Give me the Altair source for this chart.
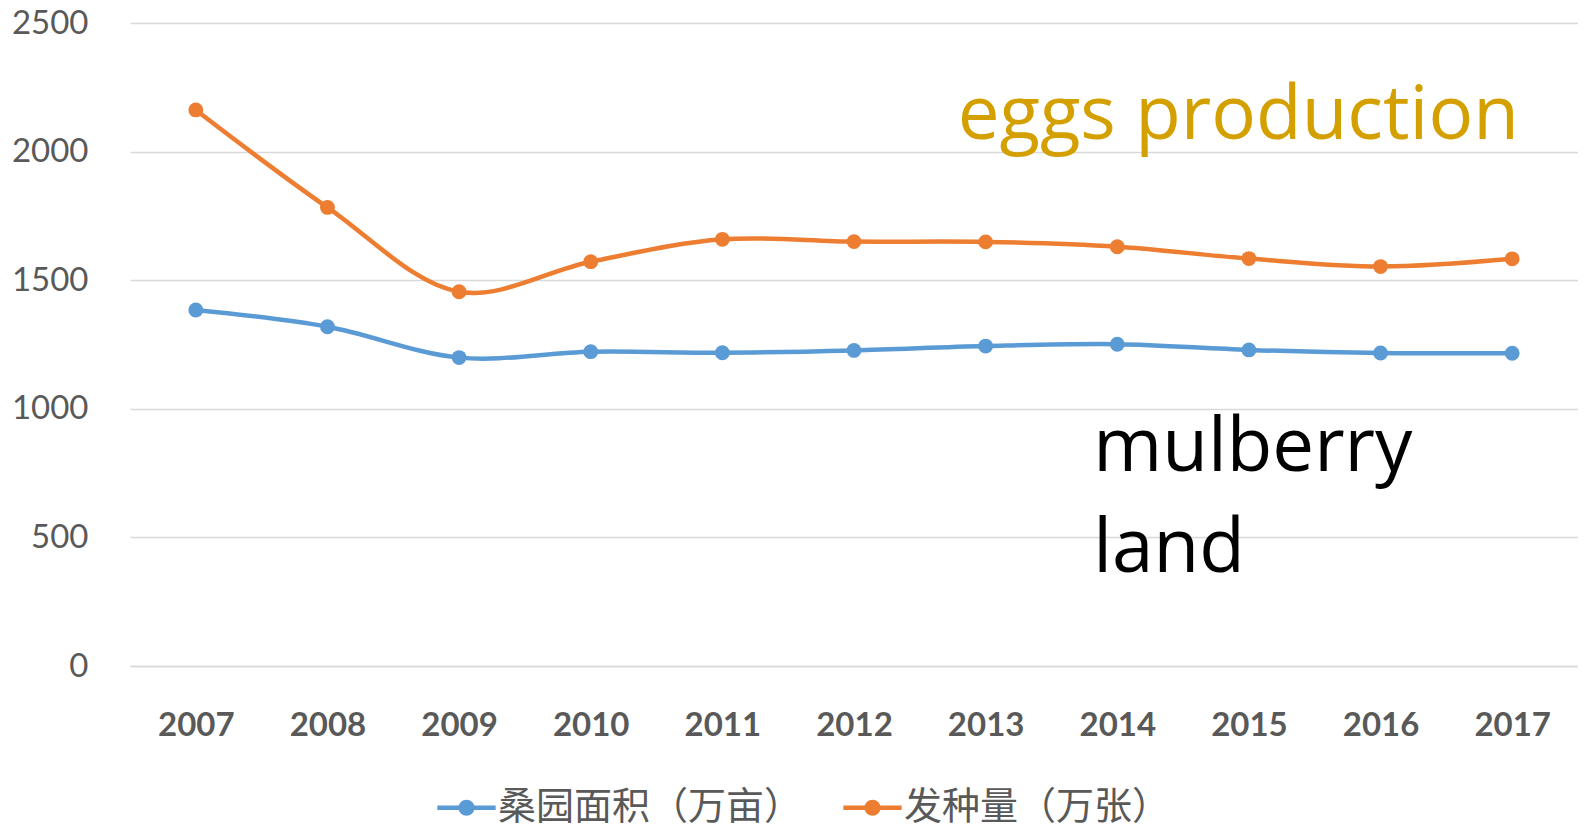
import altair as alt
import pandas as pd

years = ["2007", "2008", "2009", "2010", "2011", "2012", "2013", "2014", "2015", "2016", "2017"]
mulberry = [1384, 1319, 1199, 1222, 1218, 1227, 1244, 1251, 1229, 1217, 1216]
eggs = [2162, 1783, 1455, 1572, 1659, 1650, 1649, 1630, 1584, 1553, 1583]
series_names = ["桑园面积（万亩）", "发种量（万张）"]
colors = ["#5B9BD5", "#ED7D31"]

eggs_label = ["eggs production"]
eggs_label_year = ["2013"]
eggs_label_value = [2049]
land_label = ["mulberry", "land"]
land_label_year = ["2014", "2014"]
land_label_value = [758, 365]

rows = []
for y, v in zip(years, mulberry):
    rows.append({"year": y, "value": v, "series": series_names[0]})
for y, v in zip(years, eggs):
    rows.append({"year": y, "value": v, "series": series_names[1]})
df = pd.DataFrame(rows)
ann1 = pd.DataFrame({"text": eggs_label, "year": eggs_label_year, "value": eggs_label_value})
ann2 = pd.DataFrame({"text": land_label, "year": land_label_year, "value": land_label_value})

FONT = "Lato"
x_scale = alt.Scale(type="point", padding=0.5, domain=years)
y_scale = alt.Scale(domain=[0, 2500], nice=False, zero=True)

x_enc = alt.X("year:N", sort=years, title=None, scale=x_scale,
              axis=alt.Axis(labelAngle=0, labelFontWeight="bold", labelFontSize=33,
                            labelFont=FONT, labelColor="#595959", labelPadding=43,
                            ticks=False, domainColor="#D9D9D9", domainWidth=1.5, grid=False))
y_enc = alt.Y("value:Q", title=None, scale=y_scale,
              axis=alt.Axis(values=[0, 500, 1000, 1500, 2000, 2500], format="d", labelFontSize=33,
                            labelFont=FONT, labelColor="#595959", labelPadding=42,
                            ticks=False, domain=False, gridColor="#D9D9D9", gridWidth=1.5))
color_enc = alt.Color("series:N", sort=series_names, title=None,
                      scale=alt.Scale(domain=series_names, range=colors),
                      legend=alt.Legend(orient="none", legendX=305, legendY=753,
                                        direction="horizontal",
                                        labelFont="Noto Sans CJK SC", labelFontSize=38,
                                        labelColor="#595959", labelLimit=0,
                                        symbolType="M-1,0L1,0M-0.2,0A0.2,0.2 0 1 1 0.2,0A0.2,0.2 0 1 1 -0.2,0",
                                        symbolSize=3400, symbolStrokeWidth=4.5,
                                        symbolFillColor="transparent",
                                        columnPadding=31, labelOffset=0))

lines = alt.Chart(df).mark_line(interpolate="catmull-rom", strokeWidth=4.5).encode(
    x=x_enc, y=y_enc, color=color_enc)
points = alt.Chart(df).mark_circle(size=220, opacity=1).encode(
    x=alt.X("year:N", sort=years, scale=x_scale),
    y=alt.Y("value:Q", scale=y_scale),
    color=alt.Color("series:N", sort=series_names, legend=None))

text1 = alt.Chart(ann1).mark_text(align="left", baseline="alphabetic", fontSize=74.5,
                                  font="Open Sans", dx=-28, color="#D4A000").encode(
    x=alt.X("year:N", sort=years, scale=x_scale),
    y=alt.Y("value:Q", scale=y_scale),
    text="text:N")
text2 = alt.Chart(ann2).mark_text(align="left", baseline="alphabetic", fontSize=74.5,
                                  font="Open Sans", dx=-24, color="#000000").encode(
    x=alt.X("year:N", sort=years, scale=x_scale),
    y=alt.Y("value:Q", scale=y_scale),
    text="text:N")

chart = alt.layer(lines, points, text1, text2).properties(
    width=1448, height=643, background="white",
    autosize=alt.AutoSizeParams(type="none"),
    padding={"left": 122, "top": 15, "right": 0, "bottom": 166},
).configure_view(stroke="transparent", strokeWidth=0)

chart.save("out.html", embed_options={"renderer": "svg", "actions": False})
